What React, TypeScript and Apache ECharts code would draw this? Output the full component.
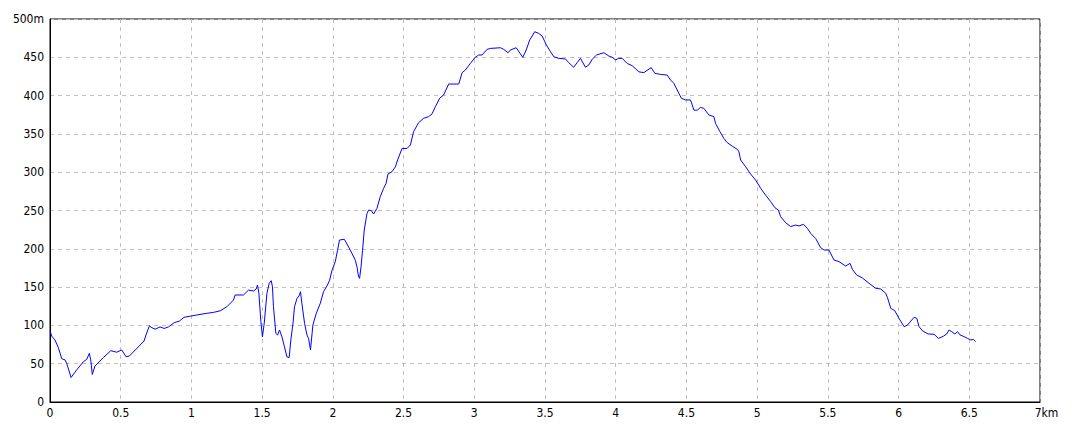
import React, { useEffect, useRef } from "react";
import * as echarts from "echarts";

// distance along the route (km)
const distanceKm: number[] = [
  0.002, 0.012, 0.035, 0.059, 0.083, 0.106, 0.118, 0.149, 0.189, 0.236,
  0.26, 0.278, 0.288, 0.299, 0.318, 0.377, 0.43, 0.472, 0.507, 0.538,
  0.561, 0.665, 0.679, 0.703, 0.715, 0.743, 0.778, 0.807, 0.837, 0.878,
  0.915, 0.948, 0.991, 1.038, 1.109, 1.156, 1.203, 1.251, 1.297, 1.309,
  1.368, 1.403, 1.439, 1.458, 1.467, 1.477, 1.491, 1.502, 1.515, 1.534,
  1.55, 1.564, 1.573, 1.58, 1.597, 1.609, 1.623, 1.64, 1.658, 1.675,
  1.691, 1.703, 1.718, 1.729, 1.746, 1.764, 1.771, 1.781, 1.8, 1.817,
  1.828, 1.842, 1.852, 1.859, 1.883, 1.911, 1.934, 1.962, 1.977, 1.994,
  2.017, 2.033, 2.047, 2.081, 2.104, 2.135, 2.159, 2.171, 2.182, 2.189,
  2.199, 2.21, 2.222, 2.241, 2.253, 2.272, 2.288, 2.312, 2.335, 2.359,
  2.376, 2.39, 2.418, 2.442, 2.458, 2.489, 2.524, 2.548, 2.571, 2.606,
  2.642, 2.677, 2.701, 2.725, 2.755, 2.783, 2.819, 2.89, 2.914, 2.937,
  2.972, 3.007, 3.031, 3.055, 3.091, 3.114, 3.185, 3.208, 3.239, 3.255,
  3.296, 3.343, 3.367, 3.392, 3.427, 3.456, 3.48, 3.51, 3.539, 3.562,
  3.597, 3.645, 3.668, 3.703, 3.727, 3.751, 3.786, 3.81, 3.834, 3.864,
  3.916, 3.951, 3.975, 3.999, 4.022, 4.046, 4.081, 4.117, 4.164, 4.199,
  4.251, 4.277, 4.317, 4.364, 4.388, 4.411, 4.435, 4.464, 4.494, 4.529,
  4.553, 4.577, 4.6, 4.623, 4.659, 4.694, 4.706, 4.737, 4.765, 4.789,
  4.824, 4.86, 4.871, 4.883, 4.919, 4.954, 4.989, 5.025, 5.06, 5.096,
  5.126, 5.15, 5.166, 5.202, 5.237, 5.272, 5.296, 5.327, 5.355, 5.379,
  5.414, 5.449, 5.473, 5.508, 5.543, 5.579, 5.626, 5.657, 5.674, 5.704,
  5.744, 5.791, 5.838, 5.874, 5.909, 5.921, 5.945, 5.973, 6.003, 6.039,
  6.063, 6.11, 6.129, 6.145, 6.169, 6.209, 6.251, 6.282, 6.318, 6.341,
  6.357, 6.376, 6.398, 6.417, 6.435, 6.464, 6.488, 6.511, 6.53, 6.546,
];

// elevation (m)
const elevationM: number[] = [
  92, 86, 81, 71, 56.5, 55, 50.5, 32, 42, 52.6,
  55.7, 63.5, 55, 36, 47, 58, 67, 65, 68, 59,
  60, 79.6, 87.5, 99.6, 97.5, 95, 98, 96, 98, 103.5,
  105.7, 110.6, 112, 113.6, 115.8, 117, 119, 124.4, 133, 139.7,
  139.7, 146, 145, 147.5, 152.7, 142, 105, 85, 103, 142,
  155, 158.4, 150.5, 124.4, 89.6, 87.5, 94, 85, 72, 59,
  58, 81, 102.7, 124.4, 135, 139.7, 144, 128.8, 102.7, 87.5,
  83, 68, 87.5, 100.5, 115.8, 128.8, 144, 152.7, 159, 172,
  183, 198, 211.5, 212.4, 205, 194, 185, 176, 163.5, 161.4,
  176, 198, 224.5, 246, 250.6, 249.7, 245.4, 252.8, 268, 279,
  285.3, 297.6, 300.6, 307, 316, 331, 331, 335.5, 353, 364.6,
  370.4, 372.5, 376, 385.5, 396.5, 400.8, 415.1, 415.1, 429.9, 433.4,
  442, 450, 453, 453, 460.4, 461.6, 462.5, 460.4, 456, 459.5,
  462.5, 450, 459.5, 472.6, 483.4, 481.2, 477.8, 466, 457.3, 450.7,
  448.6, 447.8, 443, 437, 443, 448.6, 437, 440, 447.5, 453,
  456, 451.7, 450, 446.7, 448.6, 448.6, 442, 439, 431, 430,
  436.5, 429, 427.7, 426.8, 420.3, 416, 407.3, 396.5, 394.3, 394.3,
  381, 381, 384.6, 383.4, 374.7, 372.5, 363.6, 352.9, 344, 338.5,
  334, 329.8, 326.7, 316, 307, 297.6, 289.8, 279, 270, 261.5,
  253.6, 250.6, 242, 234, 229, 231, 229.8, 232, 226.8, 220,
  213.4, 201.5, 198.4, 198.4, 185.4, 183.2, 177.5, 181, 173, 165.8,
  162, 155, 148.4, 147.5, 142, 136.6, 122.3, 119.2, 109.2, 98.3,
  100.5, 110.6, 109.2, 98.3, 93, 88.8, 88.4, 83, 86, 88.8,
  94, 91.8, 88.8, 91.8, 87.5, 85.3, 83, 81, 81.7, 78.7,
];

const xMax = 7;
const xStep = 0.5;
const yMax = 500;
const yStep = 50;
const xUnit = "km";
const yUnit = "m";

const FONT = "'Liberation Sans Narrow', 'DejaVu Sans Condensed', 'Liberation Sans', sans-serif";

export default function App() {
  const ref = useRef<HTMLDivElement>(null);

  useEffect(() => {
    if (!ref.current) return;
    const chart = echarts.init(ref.current, undefined, { renderer: "svg" });
    const points = distanceKm.map((d, i) => [d, elevationM[i]]);
    chart.setOption({
      animation: false,
      backgroundColor: "#ffffff",
      grid: {
        left: 50,
        right: 40,
        top: 19,
        bottom: 30,
        show: true,
        borderColor: "#000000",
        borderWidth: 1,
        backgroundColor: "transparent",
      },
      xAxis: {
        type: "value",
        min: 0,
        max: xMax,
        interval: xStep,
        axisLine: { show: true, lineStyle: { color: "#000000", width: 1 } },
        axisTick: { show: false },
        splitLine: {
          show: true,
          lineStyle: { color: "#c0c0c0", type: [4, 4], width: 1 },
        },
        axisLabel: {
          color: "#000000",
          fontFamily: FONT,
          fontSize: 12,
          margin: 5,
          formatter: (v: number) =>
            v === xMax ? "{u|" + v + xUnit + "}" : String(v),
          rich: {
            u: {
              color: "#000000",
              fontFamily: FONT,
              fontSize: 12,
              padding: [0, 0, 0, 13],
            },
          },
        },
      },
      yAxis: {
        type: "value",
        min: 0,
        max: yMax,
        interval: yStep,
        axisLine: { show: true, lineStyle: { color: "#000000", width: 1 } },
        axisTick: { show: false },
        splitLine: {
          show: true,
          lineStyle: { color: "#c0c0c0", type: [4, 4], width: 1 },
        },
        axisLabel: {
          color: "#000000",
          fontFamily: FONT,
          fontSize: 12,
          margin: 6,
          formatter: (v: number) => (v === yMax ? v + yUnit : String(v)),
        },
      },
      series: [
        {
          type: "line",
          data: points,
          showSymbol: false,
          symbol: "none",
          smooth: false,
          lineStyle: { color: "#0000ff", width: 1 },
          z: 5,
        },
      ],
    });
    return () => chart.dispose();
  }, []);

  return (
    <div
      ref={ref}
      style={{ position: "absolute", left: 0, top: 0, width: 1080, height: 432 }}
    />
  );
}
